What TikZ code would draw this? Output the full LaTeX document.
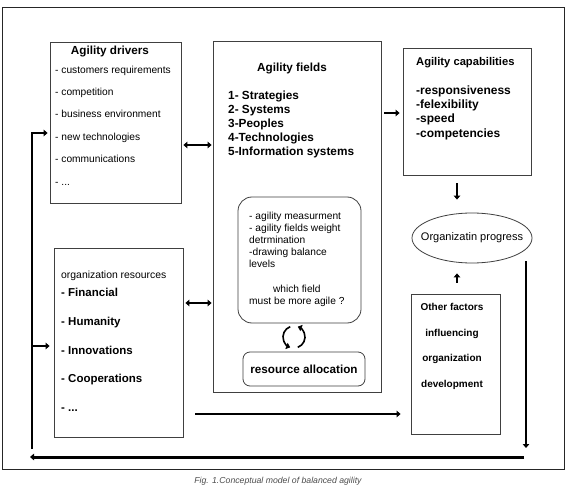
\documentclass[tikz,border=0pt]{standalone}
\usepackage{fontspec}
\setmainfont{Liberation Sans}
\usetikzlibrary{arrows.meta,positioning,shapes.geometric}
\newcommand{\fsz}[2]{\fontsize{#1}{#2}\selectfont}
\tikzset{
  panel/.style={draw=black!75, line width=0.8pt, fill=white, inner sep=0pt},
  softpanel/.style={panel, rounded corners=14pt},
  tab/.style={panel, rounded corners=7pt, font=\fsz{11.7}{13}\bfseries},
  blob/.style={draw=black!75, line width=0.8pt, ellipse, inner xsep=-15pt, inner ysep=0pt, font=\fsz{11}{13}},
  head/.style={inner sep=0pt, font=\fsz{11.7}{13}\bfseries},
  plain/.style={inner sep=0pt, align=left, font=\fsz{10.2}{12}},
  biglist/.style={inner sep=0pt, align=left, font=\fsz{11.8}{14}\bfseries},
  caption/.style={inner sep=0pt, text=black!70, font=\fsz{8.7}{10}\itshape},
  tip/.tip={Triangle[length=4pt,width=6.5pt]},
  link/.style={tip-tip, line width=2.2pt},
  push/.style={-tip, line width=2.2pt}
}

\begin{document}
\begin{tikzpicture}[x=1pt,y=-1pt]
  \useasboundingbox (0,0) rectangle (568,492);
  \node[panel, draw=black!85, minimum width=562, minimum height=462] (frame) at (283,238) {};

  % boxes
  \node[panel, minimum width=131, minimum height=161] (drivers) at (115.5,122.5) {};
  \node[panel, minimum width=168, minimum height=351] (fields) at (297,216.5) {};
  \node[softpanel, minimum width=123, minimum height=126] (measure) at (299.5,260) {};
  \node[tab, minimum width=122, minimum height=34] (alloc) at (304,369) {resource allocation};
  \node[panel, minimum width=128, minimum height=127] (capab) at (467,111.5) {};
  \node[blob, minimum width=120, minimum height=50] (progress) at (472,238) {Organizatin progress};
  \node[panel, minimum width=89, minimum height=140] (others) at (455.5,364) {};
  \node[panel, minimum width=129, minimum height=189] (resources) at (118.5,342.5) {};

  % texts
  \node[head] (drvhead) at (110,52) {Agility drivers};
  \node[plain, anchor=north west, font=\fsz{10.2}{22.4}] (drvlist) at (55,65.5)
    {- customers requirements\\- competition\\- business environment\\- new technologies\\- communications\\- ...};
  \node[head] (fldhead) at (292,69) {Agility fields};
  \node[biglist, anchor=north west] (fldlist) at (228,90.5)
    {1- Strategies\\2- Systems\\3-Peoples\\4-Technologies\\5-Information systems};
  \node[plain, anchor=north west, font=\fsz{10.2}{12.2}] (msrlist) at (249,211.5)
    {- agility measurment\\- agility fields weight\\detrmination\\-drawing balance\\levels};
  \node[plain, align=center, anchor=north west, font=\fsz{10.2}{12.2}] (msrask) at (249,284.5)
    {which field\\must be more agile ?};
  \node[head, anchor=west, font=\fsz{11.2}{13}\bfseries] (caphead) at (416,63) {Agility capabilities};
  \node[biglist, anchor=north west, font=\fsz{12}{14.3}\bfseries] (caplist) at (416,85.5)
    {-responsiveness\\-felexibility\\-speed\\-competencies};
  \node[head, align=center, font=\fsz{10}{25.7}\bfseries] (othtext) at (452,346.5)
    {Other factors\\influencing\\organization\\development};
  \node[plain, anchor=west, font=\fsz{10.4}{12}] (reshead) at (61,276) {organization resources};
  \node[biglist, anchor=north west, font=\fsz{11.5}{28.75}\bfseries] (reslist) at (61,288)
    {- Financial\\- Humanity\\- Innovations\\- Cooperations\\- ...};
  \node[caption] (figcap) at (278,481) {Fig. 1.Conceptual model of balanced agility};

  % connectors
  \coordinate (cyc) at (294,337);
  \draw[-tip, line width=1.6pt] ([shift={(250:11)}]cyc) arc[start angle=250, end angle=110, radius=11];
  \draw[-tip, line width=1.6pt] ([shift={(70:11)}]cyc) arc[start angle=70, end angle=-70, radius=11];

  \draw[link, shorten <=2pt, shorten >=1pt] (drivers.east |- 0,145) -- (fields.west |- 0,145);
  \draw[link, shorten <=2pt, shorten >=1pt] (resources.east |- 0,303) -- (fields.west |- 0,303);
  \draw[push, shorten <=3pt, shorten >=3pt] (fields.east |- 0,113) -- (capab.west |- 0,113);
  \draw[push, shorten <=8pt, shorten >=13pt] (capab.south -| 457,0) -- (progress.north -| 457,0);
  \draw[push, shorten <=11pt, shorten >=10pt] (others.north -| 457,0) -- (progress.south -| 457,0);

  \coordinate (flowstart) at (195,414);
  \draw[push, shorten >=10pt] (flowstart) -- (others.west |- flowstart);
  \coordinate (fbtop) at (526,261);
  \coordinate (fbbot) at (526,448);
  \draw[push] (fbtop) -- (fbbot);
  \coordinate (backright) at (524,457);
  \coordinate (backleft) at (30,457);
  \draw[push, line width=3pt] (backright) -- (backleft);
  \coordinate (lbot) at (32,449);
  \coordinate (ltop) at (32,133);
  \coordinate (lmid) at (32,346);
  \draw[push, shorten >=2pt] (lbot) -- (ltop) -- (drivers.west |- ltop);
  \draw[push, shorten >=4pt] (lmid) -- (resources.west |- lmid);
\end{tikzpicture}
\end{document}
